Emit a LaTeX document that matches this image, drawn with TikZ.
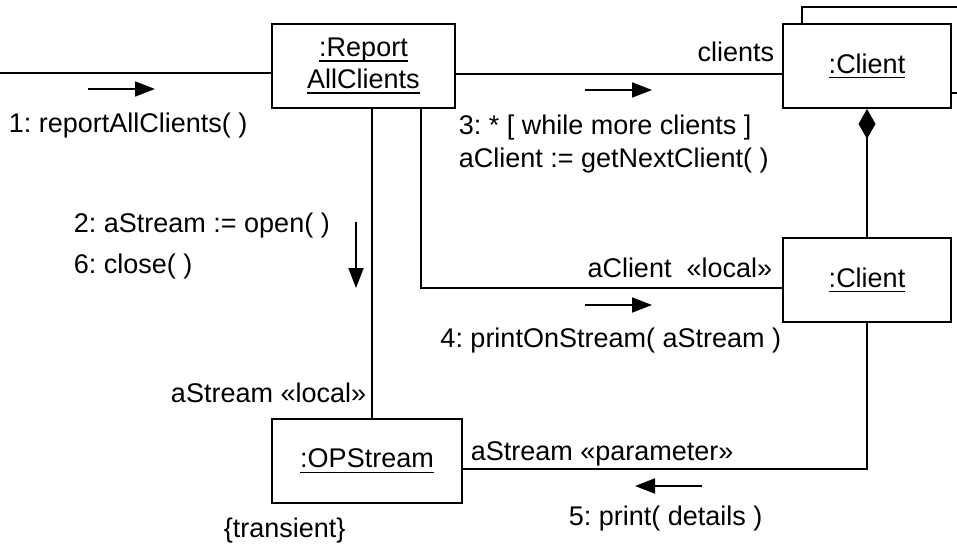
\documentclass[tikz,border=0pt]{standalone}
\usepackage{fontspec}
\setmainfont{Liberation Sans}
\usetikzlibrary{arrows.meta,calc}
\frenchspacing
\newcommand{\undl}[1]{\setbox0\hbox{#1}\rlap{\rule[-5pt]{\wd0}{1.4pt}}\box0}
\begin{document}
\begin{tikzpicture}[x=1pt,y=-1pt, line width=1.8pt,
  obj/.style={draw, fill=white, inner sep=0pt, align=center, font=\fontsize{27}{32}\selectfont},
  lbl/.style={inner sep=0pt, font=\fontsize{27}{32}\selectfont},
  msg/.style={-{Triangle[length=20pt,width=15pt]}, line width=1.8pt}]
\useasboundingbox[fill=white] (0,0) rectangle (957,543);
% objects
\node[obj, minimum width=174pt, minimum height=86pt] (client1back) at (889,50) {};
\node[obj, minimum width=183pt, minimum height=84pt] (report) at (363.5,66) {\undl{:Report}\\\undl{AllClients}};
\node[obj, minimum width=168pt, minimum height=84pt] (client1) at (867,66) {\raisebox{-2pt}{\undl{:Client}}};
\node[obj, minimum width=168pt, minimum height=84pt] (client2) at (867,280) {\raisebox{-2pt}{\undl{:Client}}};
\node[obj, minimum width=190pt, minimum height=84pt] (opstream) at (367,461) {\raisebox{-2pt}{\undl{:OPStream}}};
% links
\coordinate (start) at (0,73);
\draw (start) -- ([yshift=-7pt]report.west);
\draw ([yshift=-8pt]report.east) -- ([yshift=-8pt]client1.west);
\draw ([xshift=8.5pt]report.south) -- ([xshift=5pt]opstream.north);
\draw ([xshift=57.5pt]report.south) |- ([yshift=-8pt]client2.west);
\draw (client2.south) |- ([yshift=-8pt]opstream.east);
\draw[{Diamond[length=30pt,width=17pt]}-] (client1.south) -- (client2.north);
% message arrows
\coordinate (m1s) at (88,89); \coordinate (m1e) at (155,89);
\draw[msg] (m1s) -- (m1e);
\coordinate (m3s) at (585,90); \coordinate (m3e) at (652,90);
\draw[msg] (m3s) -- (m3e);
\coordinate (m2s) at (356,222); \coordinate (m2e) at (356,288);
\draw[msg] (m2s) -- (m2e);
\coordinate (m4s) at (585,305); \coordinate (m4e) at (652,305);
\draw[msg] (m4s) -- (m4e);
\coordinate (m5s) at (702,486); \coordinate (m5e) at (635,486);
\draw[msg] (m5s) -- (m5e);
% labels
\node[lbl, anchor=base west] (l1) at (8,132) {1: reportAllClients( )};
\node[lbl, anchor=base east] (lclients) at (775,62) {clients};
\node[lbl, anchor=base west] (l3a) at (458,134) {3: * [ while more clients ]};
\node[lbl, anchor=base west] (l3b) at (458,167) {aClient := getNextClient( )};
\node[lbl, anchor=base west] (l2) at (73,232) {2: aStream := open( )};
\node[lbl, anchor=base west] (l6) at (73,273) {6: close( )};
\node[lbl, anchor=base east] (llocal) at (773,277) {aClient \ «local»};
\node[lbl, anchor=base east] (l4) at (782,347) {4: printOnStream( aStream )};
\node[lbl, anchor=base east] (lslocal) at (367,402) {aStream «local»};
\node[lbl, anchor=base west] (lparam) at (470,460) {aStream «parameter»};
\node[lbl, anchor=base west] (l5) at (568,525) {5: print( details )};
\node[lbl, anchor=base west] (ltrans) at (223,537) {\{transient\}};
\end{tikzpicture}
\end{document}
